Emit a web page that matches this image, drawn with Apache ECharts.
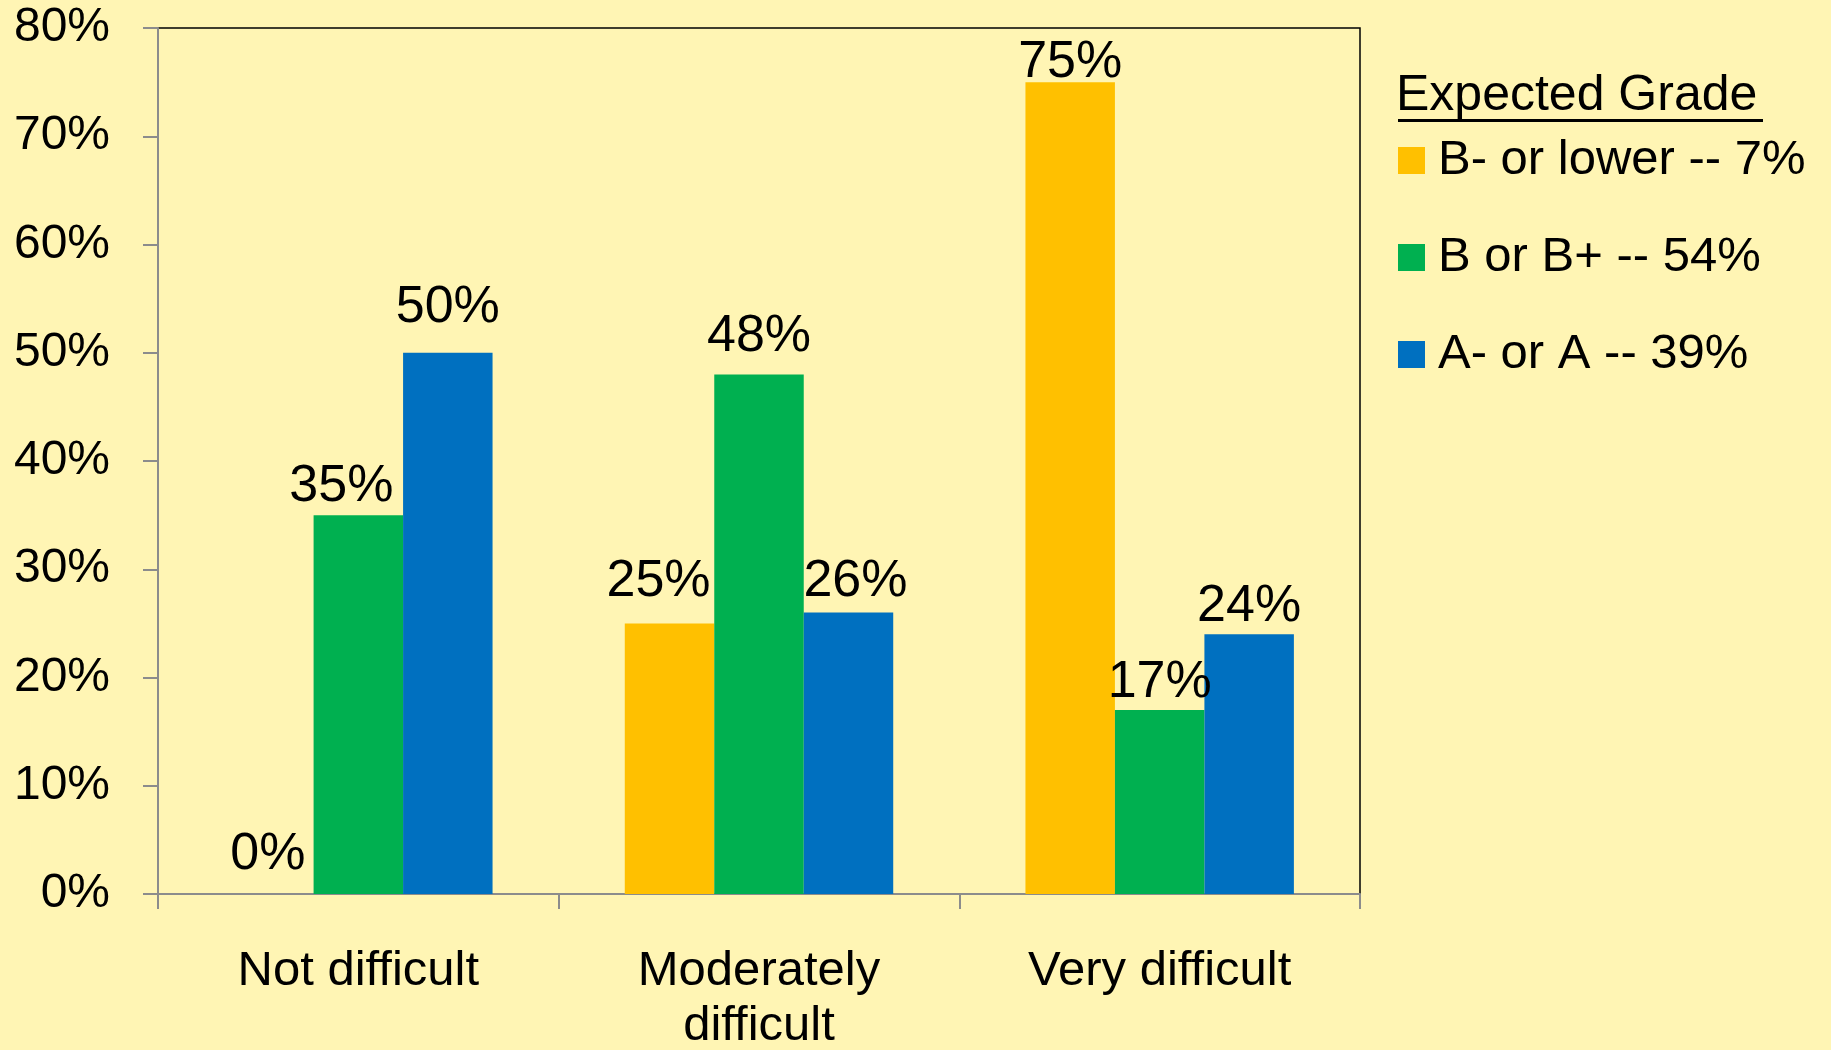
<!DOCTYPE html>
<html>
<head>
<meta charset="utf-8">
<script src="https://cdn.jsdelivr.net/npm/echarts@6/dist/echarts.min.js"></script>
<style>
html,body{margin:0;padding:0;background:#FFF5B4;}
#c{width:1831px;height:1050px;}
</style>
</head>
<body>
<div id="c"></div>
<script>
const categories = ['Not difficult', 'Moderately\ndifficult', 'Very difficult'];
const seriesNames = ['B- or lower -- 7%', 'B or B+ -- 54%', 'A- or A -- 39%'];
const bLower = [0, 25, 75];
const bOrBPlus = [35, 48, 17];
const aOrAMinus = [50, 26, 24];
const yTicks = [0, 10, 20, 30, 40, 50, 60, 70, 80];
const legendTitle = 'Expected Grade';

// label placement styling (as hand-placed in the original), per series per category
const labelDistance = [[13, 16, -7], [2, 12, 1], [19, 5, 2]];
const labelShiftX = [[-1, -11, 0], [-17, 0, 0], [0, 7, 0]];

const colors = ['#FFC000', '#00B050', '#0070C0'];
const font = 'Liberation Sans, Arial, sans-serif';

const chart = echarts.init(document.getElementById('c'), null, {renderer: 'canvas'});

function bar(idx, name, values, color) {
  return {
    name: name,
    type: 'bar',
    data: values.map((v, i) => ({
      value: v,
      label: {distance: labelDistance[idx][i], offset: [labelShiftX[idx][i], 0]}
    })),
    itemStyle: {color: color},
    barGap: '0%',
    barCategoryGap: '33%',
    label: {
      show: true,
      position: 'top',
      formatter: p => p.value + '%',
      color: '#000',
      fontSize: 52,
      fontFamily: font
    }
  };
}

chart.setOption({
  backgroundColor: '#FFF5B4',
  animation: false,
  title: {
    text: legendTitle,
    left: 1396,
    top: 71,
    padding: 0,
    textStyle: {fontSize: 50, fontWeight: 'normal', color: '#000', fontFamily: font}
  },
  graphic: [{
    type: 'rect',
    shape: {x: 1398, y: 119, width: 365, height: 3},
    style: {fill: '#000'}
  }],
  legend: {
    orient: 'vertical',
    left: 1398,
    top: 136,
    padding: 0,
    itemWidth: 27,
    itemHeight: 27,
    itemGap: 48,
    icon: 'rect',
    data: seriesNames,
    textStyle: {fontSize: 49, lineHeight: 48, color: '#000', fontFamily: font, padding: [0, 0, 0, 8]}
  },
  grid: {
    left: 158, right: 471, top: 28, bottom: 156,
    containLabel: false,
    outerBoundsMode: 'none',
    show: true, borderColor: '#000', borderWidth: 1.5, backgroundColor: 'transparent'
  },
  xAxis: {
    type: 'category',
    data: categories,
    axisLine: {lineStyle: {color: '#8C8C8C', width: 2}},
    axisTick: {show: true, length: 15, lineStyle: {color: '#8C8C8C', width: 2}},
    axisLabel: {margin: 50, fontSize: 49, lineHeight: 55, color: '#000', fontFamily: font, interval: 0}
  },
  yAxis: {
    type: 'value',
    min: 0, max: 80, interval: 10,
    axisLine: {show: true, lineStyle: {color: '#8C8C8C', width: 2}},
    axisTick: {show: true, length: 15, lineStyle: {color: '#8C8C8C', width: 2}},
    splitLine: {show: false},
    axisLabel: {
      margin: 48, fontSize: 48, color: '#000', fontFamily: font,
      formatter: v => yTicks.indexOf(v) >= 0 ? v + '%' : ''
    }
  },
  series: [
    bar(0, seriesNames[0], bLower, colors[0]),
    bar(1, seriesNames[1], bOrBPlus, colors[1]),
    bar(2, seriesNames[2], aOrAMinus, colors[2])
  ]
});
</script>
</body>
</html>
